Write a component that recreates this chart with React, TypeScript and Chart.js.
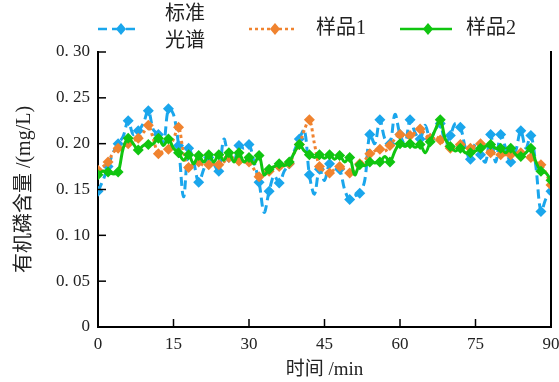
import React, { useEffect, useRef } from 'react';
import { Chart, registerables } from 'chart.js';

Chart.register(...registerables);

// ---- data ----
const seriesNames: string[][] = [['标准', '光谱'], ['样品1'], ['样品2']];
const minutes: number[] = Array.from({ length: 91 }, (_, i) => i);

const standardSpectrum: number[] = [
  0.148, 0.160, 0.175, 0.190, 0.200, 0.208, 0.225, 0.210, 0.214, 0.222,
  0.236, 0.215, 0.210, 0.200, 0.238, 0.232, 0.198, 0.142, 0.195, 0.180,
  0.158, 0.172, 0.185, 0.178, 0.170, 0.205, 0.185, 0.180, 0.198, 0.195,
  0.199, 0.180, 0.158, 0.125, 0.148, 0.165, 0.157, 0.170, 0.178, 0.192,
  0.205, 0.215, 0.166, 0.145, 0.172, 0.160, 0.178, 0.175, 0.172, 0.150,
  0.139, 0.143, 0.146, 0.160, 0.210, 0.200, 0.226, 0.205, 0.200, 0.232,
  0.210, 0.200, 0.226, 0.212, 0.205, 0.220, 0.205, 0.215, 0.222, 0.200,
  0.209, 0.222, 0.218, 0.195, 0.183, 0.200, 0.188, 0.180, 0.210, 0.180,
  0.210, 0.195, 0.180, 0.192, 0.214, 0.195, 0.209, 0.175, 0.126, 0.140,
  0.148,
];

const sample1: number[] = [
  0.171, 0.175, 0.180, 0.190, 0.195, 0.197, 0.200, 0.203, 0.206, 0.212,
  0.220, 0.205, 0.189, 0.192, 0.194, 0.205, 0.218, 0.190, 0.174, 0.178,
  0.180, 0.176, 0.177, 0.178, 0.177, 0.180, 0.185, 0.182, 0.181, 0.180,
  0.180, 0.172, 0.164, 0.167, 0.170, 0.172, 0.175, 0.177, 0.178, 0.190,
  0.199, 0.215, 0.226, 0.200, 0.175, 0.170, 0.168, 0.172, 0.175, 0.172,
  0.168, 0.172, 0.178, 0.182, 0.189, 0.192, 0.194, 0.192, 0.198, 0.205,
  0.210, 0.208, 0.209, 0.212, 0.216, 0.210, 0.206, 0.208, 0.204, 0.198,
  0.195, 0.198, 0.199, 0.196, 0.195, 0.198, 0.200, 0.194, 0.190, 0.189,
  0.188, 0.188, 0.188, 0.189, 0.190, 0.187, 0.185, 0.180, 0.177, 0.168,
  0.155,
];

const sample2: number[] = [
  0.166, 0.170, 0.169, 0.167, 0.169, 0.195, 0.206, 0.200, 0.193, 0.198,
  0.199, 0.200, 0.206, 0.198, 0.205, 0.195, 0.190, 0.182, 0.188, 0.178,
  0.187, 0.180, 0.188, 0.180, 0.188, 0.182, 0.190, 0.180, 0.190, 0.180,
  0.185, 0.178, 0.187, 0.166, 0.172, 0.175, 0.178, 0.176, 0.180, 0.190,
  0.199, 0.192, 0.188, 0.185, 0.188, 0.184, 0.188, 0.183, 0.187, 0.180,
  0.185, 0.166, 0.177, 0.176, 0.180, 0.179, 0.180, 0.186, 0.180, 0.192,
  0.200, 0.197, 0.200, 0.196, 0.199, 0.190, 0.202, 0.215, 0.226, 0.205,
  0.197, 0.192, 0.195, 0.190, 0.190, 0.192, 0.195, 0.197, 0.199, 0.195,
  0.195, 0.190, 0.195, 0.188, 0.186, 0.190, 0.195, 0.180, 0.170, 0.168,
  0.160,
];

const yTickLabels: string[] = ['0', '0. 05', '0. 10', '0. 15', '0. 20', '0. 25', '0. 30'];
const xTickLabels: string[] = ['0', '15', '30', '45', '60', '75', '90'];

const COLORS = ['#1aa6ec', '#f0832f', '#10c510'];
const DASHES: number[][] = [[9, 5], [3, 3], []];
const FONT_FAMILY = "'Liberation Serif', 'DejaVu Serif', 'Noto Sans CJK SC', serif";

function drawDiamond(ctx: CanvasRenderingContext2D, cx: number, cy: number, r: number, color: string) {
  ctx.beginPath();
  ctx.moveTo(cx, cy - r);
  ctx.lineTo(cx + r * 0.85, cy);
  ctx.lineTo(cx, cy + r);
  ctx.lineTo(cx - r * 0.85, cy);
  ctx.closePath();
  ctx.fillStyle = color;
  ctx.fill();
}

const axesPlugin = {
  id: 'axesPlugin',
  afterDraw(chart: any) {
    const { ctx, chartArea } = chart;
    const xs = chart.scales.x;
    const ys = chart.scales.y;
    ctx.save();
    ctx.strokeStyle = '#000';
    ctx.lineWidth = 2;
    ctx.beginPath();
    ctx.moveTo(chartArea.right, chartArea.top - 1);
    ctx.lineTo(chartArea.right, chartArea.bottom + 1);
    ctx.stroke();
    ctx.lineWidth = 1.5;
    ys.ticks.forEach((t: any) => {
      const py = ys.getPixelForValue(t.value);
      ctx.beginPath();
      ctx.moveTo(chartArea.left, py);
      ctx.lineTo(chartArea.left + 8, py);
      ctx.stroke();
    });
    xs.ticks.forEach((t: any) => {
      const px = xs.getPixelForValue(t.value);
      ctx.beginPath();
      ctx.moveTo(px, chartArea.bottom);
      ctx.lineTo(px, chartArea.bottom - 8);
      ctx.stroke();
    });
    ctx.restore();
  },
};

const legendPlugin = {
  id: 'customLegend',
  afterDraw(chart: any) {
    const ctx: CanvasRenderingContext2D = chart.ctx;
    const spots = [
      { x1: 98, x2: 140, tx: 165 },
      { x1: 249, x2: 297, tx: 316 },
      { x1: 400, x2: 452, tx: 466 },
    ];
    const cy = 29;
    ctx.save();
    spots.forEach((s, i) => {
      const color = COLORS[i];
      ctx.strokeStyle = color;
      ctx.lineWidth = 2.5;
      ctx.setLineDash(DASHES[i]);
      ctx.beginPath();
      ctx.moveTo(s.x1, cy);
      ctx.lineTo(s.x2, cy);
      ctx.stroke();
      ctx.setLineDash([]);
      drawDiamond(ctx, (s.x1 + s.x2) / 2 + 2, cy, 6, color);
      ctx.fillStyle = '#222';
      ctx.font = `20px ${FONT_FAMILY}`;
      ctx.textBaseline = 'middle';
      ctx.textAlign = 'left';
      const lines = seriesNames[i];
      if (lines.length === 2) {
        ctx.fillText(lines[0], s.tx, 15);
        ctx.fillText(lines[1], s.tx, 42);
      } else {
        ctx.fillText(lines[0], s.tx, cy);
      }
    });
    ctx.restore();
  },
};

function makeDataset(values: number[], idx: number, order: number) {
  return {
    label: seriesNames[idx].join(''),
    data: minutes.map((m, i) => ({ x: m, y: values[i] })),
    borderColor: COLORS[idx],
    backgroundColor: COLORS[idx],
    borderWidth: 3,
    borderDash: DASHES[idx],
    tension: 0.35,
    pointStyle: 'rectRot' as const,
    pointRadius: (c: any) => (c.dataIndex % 2 === 0 ? 5.5 : 0),
    pointHoverRadius: 0,
    pointBorderWidth: 0,
    order,
  };
}

export default function App() {
  const canvasRef = useRef<HTMLCanvasElement | null>(null);

  useEffect(() => {
    document.body.style.margin = '0';
    const canvas = canvasRef.current;
    if (!canvas) return;
    const chart = new Chart(canvas, {
      type: 'line',
      data: {
        datasets: [
          makeDataset(standardSpectrum, 0, 3),
          makeDataset(sample1, 1, 2),
          makeDataset(sample2, 2, 1),
        ],
      },
      options: {
        animation: false,
        responsive: false,
        maintainAspectRatio: false,
        devicePixelRatio: 1,
        layout: { padding: { left: 0, right: 8, top: 52, bottom: 0 }, autoPadding: false },
        plugins: { legend: { display: false }, tooltip: { enabled: false } },
        scales: {
          x: {
            type: 'linear',
            min: 0,
            max: 90,
            afterFit: (s: any) => { s.height = 55; s.paddingLeft = 0; s.paddingRight = 0; },
            grid: { display: false, drawTicks: false },
            border: { display: true, color: '#000', width: 2 },
            ticks: {
              stepSize: 15,
              padding: 7,
              color: '#222',
              font: { family: FONT_FAMILY, size: 17 },
              maxRotation: 0,
              callback: (v: any) => xTickLabels[Math.round(Number(v) / 15)] ?? '',
            },
            title: {
              display: true,
              text: '时间 /min',
              color: '#222',
              font: { family: FONT_FAMILY, size: 19 },
              padding: { top: 0, bottom: 1 },
            },
          },
          y: {
            type: 'linear',
            min: 0,
            max: 0.3,
            afterFit: (s: any) => { s.width = 98; s.paddingTop = 0; s.paddingBottom = 0; },
            grid: { display: false, drawTicks: false },
            border: { display: true, color: '#000', width: 2 },
            ticks: {
              stepSize: 0.05,
              padding: 8,
              color: '#222',
              font: { family: FONT_FAMILY, size: 17 },
              callback: (v: any) => yTickLabels[Math.round(Number(v) / 0.05)] ?? '',
            },
            title: {
              display: true,
              text: '有机磷含量 /(mg/L)',
              color: '#222',
              font: { family: FONT_FAMILY, size: 20 },
              padding: { top: 13, bottom: 0 },
            },
          },
        },
      },
      plugins: [axesPlugin, legendPlugin],
    });
    return () => chart.destroy();
  }, []);

  return (
    <div style={{ width: 559, height: 382 }}>
      <canvas ref={canvasRef} width={559} height={382} style={{ display: 'block', width: 559, height: 382 }} />
    </div>
  );
}
